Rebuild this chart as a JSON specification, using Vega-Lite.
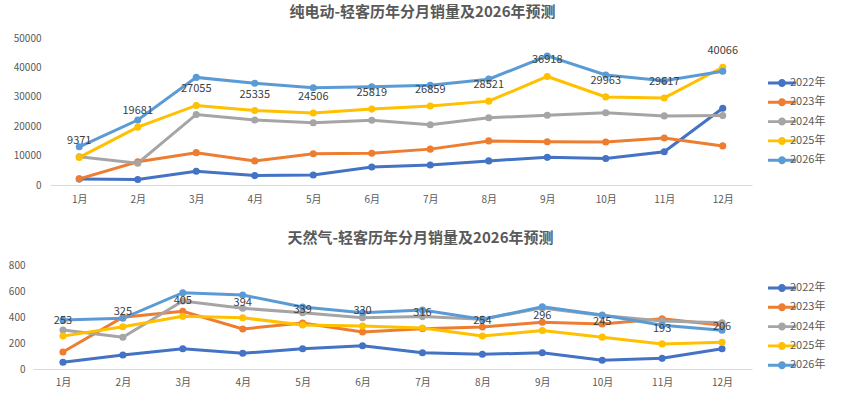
{
  "$schema": "https://vega.github.io/schema/vega-lite/v6.json",
  "background": "white",
  "padding": {"left": 8, "top": 5, "right": 5, "bottom": 5},
  "spacing": 27,
  "columns": 1,
  "align": "none",
  "bounds": "full",
  "resolve": {"legend": {"color": "independent"}},
  "config": {
    "font": "Noto Sans CJK SC",
    "view": {"stroke": null},
    "title": {"fontSize": 15, "fontWeight": "bold", "color": "#595959", "frame": "group", "anchor": "middle"},
    "axis": {"labelColor": "#595959", "labelFontSize": 10, "ticks": false, "grid": false},
    "legend": {
      "orient": "none",
      "symbolType": "M-2,-0.21L2,-0.21L2,0.21L-2,0.21Z M-0.57,0A0.57,0.57 0 1,1 0.57,0A0.57,0.57 0 1,1 -0.57,0Z",
      "symbolSize": 196,
      "symbolStrokeWidth": 0,
      "labelFontSize": 11,
      "labelColor": "#595959",
      "labelOffset": 1,
      "rowPadding": 7.3
    }
  },
  "datasets": {
    "ev": [
      {"m": "1月", "y": "2022年", "v": 2000}, {"m": "2月", "y": "2022年", "v": 1900}, {"m": "3月", "y": "2022年", "v": 4700}, {"m": "4月", "y": "2022年", "v": 3200}, {"m": "5月", "y": "2022年", "v": 3400}, {"m": "6月", "y": "2022年", "v": 6100}, {"m": "7月", "y": "2022年", "v": 6800}, {"m": "8月", "y": "2022年", "v": 8200}, {"m": "9月", "y": "2022年", "v": 9400}, {"m": "10月", "y": "2022年", "v": 9000}, {"m": "11月", "y": "2022年", "v": 11300}, {"m": "12月", "y": "2022年", "v": 26100},
      {"m": "1月", "y": "2023年", "v": 2100}, {"m": "2月", "y": "2023年", "v": 7900}, {"m": "3月", "y": "2023年", "v": 11000}, {"m": "4月", "y": "2023年", "v": 8200}, {"m": "5月", "y": "2023年", "v": 10600}, {"m": "6月", "y": "2023年", "v": 10800}, {"m": "7月", "y": "2023年", "v": 12200}, {"m": "8月", "y": "2023年", "v": 15000}, {"m": "9月", "y": "2023年", "v": 14700}, {"m": "10月", "y": "2023年", "v": 14600}, {"m": "11月", "y": "2023年", "v": 16000}, {"m": "12月", "y": "2023年", "v": 13300},
      {"m": "1月", "y": "2024年", "v": 9600}, {"m": "2月", "y": "2024年", "v": 7400}, {"m": "3月", "y": "2024年", "v": 24000}, {"m": "4月", "y": "2024年", "v": 22100}, {"m": "5月", "y": "2024年", "v": 21200}, {"m": "6月", "y": "2024年", "v": 22000}, {"m": "7月", "y": "2024年", "v": 20500}, {"m": "8月", "y": "2024年", "v": 22900}, {"m": "9月", "y": "2024年", "v": 23700}, {"m": "10月", "y": "2024年", "v": 24600}, {"m": "11月", "y": "2024年", "v": 23500}, {"m": "12月", "y": "2024年", "v": 23600},
      {"m": "1月", "y": "2025年", "v": 9371}, {"m": "2月", "y": "2025年", "v": 19681}, {"m": "3月", "y": "2025年", "v": 27055}, {"m": "4月", "y": "2025年", "v": 25335}, {"m": "5月", "y": "2025年", "v": 24506}, {"m": "6月", "y": "2025年", "v": 25819}, {"m": "7月", "y": "2025年", "v": 26859}, {"m": "8月", "y": "2025年", "v": 28521}, {"m": "9月", "y": "2025年", "v": 36918}, {"m": "10月", "y": "2025年", "v": 29963}, {"m": "11月", "y": "2025年", "v": 29617}, {"m": "12月", "y": "2025年", "v": 40066},
      {"m": "1月", "y": "2026年", "v": 13000}, {"m": "2月", "y": "2026年", "v": 22100}, {"m": "3月", "y": "2026年", "v": 36600}, {"m": "4月", "y": "2026年", "v": 34600}, {"m": "5月", "y": "2026年", "v": 33100}, {"m": "6月", "y": "2026年", "v": 33400}, {"m": "7月", "y": "2026年", "v": 33900}, {"m": "8月", "y": "2026年", "v": 36000}, {"m": "9月", "y": "2026年", "v": 43900}, {"m": "10月", "y": "2026年", "v": 37400}, {"m": "11月", "y": "2026年", "v": 35500}, {"m": "12月", "y": "2026年", "v": 38700}
    ],
    "gas": [
      {"m": "1月", "y": "2022年", "v": 52}, {"m": "2月", "y": "2022年", "v": 108}, {"m": "3月", "y": "2022年", "v": 156}, {"m": "4月", "y": "2022年", "v": 121}, {"m": "5月", "y": "2022年", "v": 156}, {"m": "6月", "y": "2022年", "v": 179}, {"m": "7月", "y": "2022年", "v": 125}, {"m": "8月", "y": "2022年", "v": 113}, {"m": "9月", "y": "2022年", "v": 125}, {"m": "10月", "y": "2022年", "v": 67}, {"m": "11月", "y": "2022年", "v": 82}, {"m": "12月", "y": "2022年", "v": 156},
      {"m": "1月", "y": "2023年", "v": 131}, {"m": "2月", "y": "2023年", "v": 398}, {"m": "3月", "y": "2023年", "v": 444}, {"m": "4月", "y": "2023年", "v": 308}, {"m": "5月", "y": "2023年", "v": 354}, {"m": "6月", "y": "2023年", "v": 285}, {"m": "7月", "y": "2023年", "v": 309}, {"m": "8月", "y": "2023年", "v": 323}, {"m": "9月", "y": "2023年", "v": 359}, {"m": "10月", "y": "2023年", "v": 346}, {"m": "11月", "y": "2023年", "v": 387}, {"m": "12月", "y": "2023年", "v": 336},
      {"m": "1月", "y": "2024年", "v": 300}, {"m": "2月", "y": "2024年", "v": 244}, {"m": "3月", "y": "2024年", "v": 523}, {"m": "4月", "y": "2024年", "v": 467}, {"m": "5月", "y": "2024年", "v": 433}, {"m": "6月", "y": "2024年", "v": 395}, {"m": "7月", "y": "2024年", "v": 403}, {"m": "8月", "y": "2024年", "v": 382}, {"m": "9月", "y": "2024年", "v": 470}, {"m": "10月", "y": "2024年", "v": 412}, {"m": "11月", "y": "2024年", "v": 369}, {"m": "12月", "y": "2024年", "v": 356},
      {"m": "1月", "y": "2025年", "v": 253}, {"m": "2月", "y": "2025年", "v": 325}, {"m": "3月", "y": "2025年", "v": 405}, {"m": "4月", "y": "2025年", "v": 394}, {"m": "5月", "y": "2025年", "v": 339}, {"m": "6月", "y": "2025年", "v": 330}, {"m": "7月", "y": "2025年", "v": 316}, {"m": "8月", "y": "2025年", "v": 254}, {"m": "9月", "y": "2025年", "v": 296}, {"m": "10月", "y": "2025年", "v": 245}, {"m": "11月", "y": "2025年", "v": 193}, {"m": "12月", "y": "2025年", "v": 206},
      {"m": "1月", "y": "2026年", "v": 377}, {"m": "2月", "y": "2026年", "v": 390}, {"m": "3月", "y": "2026年", "v": 587}, {"m": "4月", "y": "2026年", "v": 569}, {"m": "5月", "y": "2026年", "v": 477}, {"m": "6月", "y": "2026年", "v": 433}, {"m": "7月", "y": "2026年", "v": 454}, {"m": "8月", "y": "2026年", "v": 382}, {"m": "9月", "y": "2026年", "v": 479}, {"m": "10月", "y": "2026年", "v": 415}, {"m": "11月", "y": "2026年", "v": 336}, {"m": "12月", "y": "2026年", "v": 298}
    ]
  },
  "concat": [
    {
      "data": {"name": "ev"},
      "title": {"text": "纯电动-轻客历年分月销量及2026年预测", "dx": 30, "offset": 13},
      "width": 719,
      "height": 147,
      "encoding": {
        "x": {
          "field": "m", "type": "ordinal", "title": null,
          "sort": ["1月", "2月", "3月", "4月", "5月", "6月", "7月", "8月", "9月", "10月", "11月", "12月"],
          "scale": {"type": "point", "padding": 0.5, "range": [17, 719]},
          "axis": {"labelAngle": 0, "domainColor": "#D9D9D9", "labelPadding": 9}
        },
        "y": {
          "field": "v", "type": "quantitative", "title": null,
          "scale": {"domain": [0, 50000]},
          "axis": {"values": [0, 10000, 20000, 30000, 40000, 50000], "format": "d", "domain": false, "labelPadding": 9, "offset": -17, "minExtent": 25, "maxExtent": 25}
        },
        "color": {
          "field": "y", "type": "nominal",
          "scale": {"domain": ["2022年", "2023年", "2024年", "2025年", "2026年"], "range": ["#4472C4", "#ED7D31", "#A5A5A5", "#FFC000", "#5B9BD5"]},
          "legend": {"title": null, "legendX": 742, "legendY": 38, "encode": {"symbols": {"update": {"fill": {"scale": "color", "field": "value"}}}}}
        }
      },
      "layer": [
        {"mark": {"type": "line", "strokeWidth": 3}, "encoding": {"order": {"value": null}}},
        {"mark": {"type": "point", "filled": true, "size": 50, "opacity": 1}},
        {
          "transform": [{"filter": "datum.y == '2025年'"}],
          "mark": {"type": "text", "dy": -16, "fontSize": 11},
          "encoding": {"text": {"field": "v", "type": "quantitative"}, "color": {"value": "#404040"}}
        }
      ]
    },
    {
      "data": {"name": "gas"},
      "title": {"text": "天然气-轻客历年分月销量及2026年预测", "dx": 28, "offset": 14},
      "width": 719,
      "height": 104,
      "encoding": {
        "x": {
          "field": "m", "type": "ordinal", "title": null,
          "sort": ["1月", "2月", "3月", "4月", "5月", "6月", "7月", "8月", "9月", "10月", "11月", "12月"],
          "scale": {"type": "point", "padding": 0.5},
          "axis": {"labelAngle": 0, "domainColor": "#D9D9D9", "labelPadding": 8}
        },
        "y": {
          "field": "v", "type": "quantitative", "title": null,
          "scale": {"domain": [0, 800]},
          "axis": {"values": [0, 200, 400, 600, 800], "domain": false, "labelPadding": 8, "minExtent": 25, "maxExtent": 25}
        },
        "color": {
          "field": "y", "type": "nominal",
          "scale": {"domain": ["2022年", "2023年", "2024年", "2025年", "2026年"], "range": ["#4472C4", "#ED7D31", "#A5A5A5", "#FFC000", "#5B9BD5"]},
          "legend": {"title": null, "legendX": 742, "legendY": 16, "encode": {"symbols": {"update": {"fill": {"scale": "color", "field": "value"}}}}}
        }
      },
      "layer": [
        {"mark": {"type": "line", "strokeWidth": 3}, "encoding": {"order": {"value": null}}},
        {"mark": {"type": "point", "filled": true, "size": 50, "opacity": 1}},
        {
          "transform": [{"filter": "datum.y == '2025年'"}],
          "mark": {"type": "text", "dy": -15, "fontSize": 11},
          "encoding": {"text": {"field": "v", "type": "quantitative"}, "color": {"value": "#404040"}}
        }
      ]
    }
  ]
}
